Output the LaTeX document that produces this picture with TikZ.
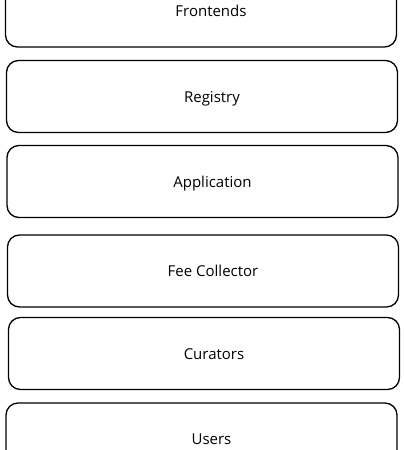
\documentclass[tikz,border=0pt]{standalone}
\usepackage{fontspec}
\setmainfont{Open Sans}

\begin{document}
\begin{tikzpicture}[x=1pt,y=-1pt,
  layer/.style={draw,line width=1.3pt,rounded corners=12pt,minimum width=391pt,
    minimum height=72pt,inner sep=0pt,text height=11pt,text depth=0pt,
    font=\fontsize{15}{17}\selectfont}]
\useasboundingbox (0,0) rectangle (404,450);
% stack of layers, top to bottom
\foreach \n/\x/\y/\t in {frontends/201/11/Frontends,registry/202/96.5/Registry,
    application/202.5/181.5/Application,feecollector/203/271/Fee Collector,
    curators/204/353.5/Curators,users/201.5/439/Users} {
\node[layer] (\n) at (\x,\y) {\hspace*{20pt}\t};}
\end{tikzpicture}
\end{document}
